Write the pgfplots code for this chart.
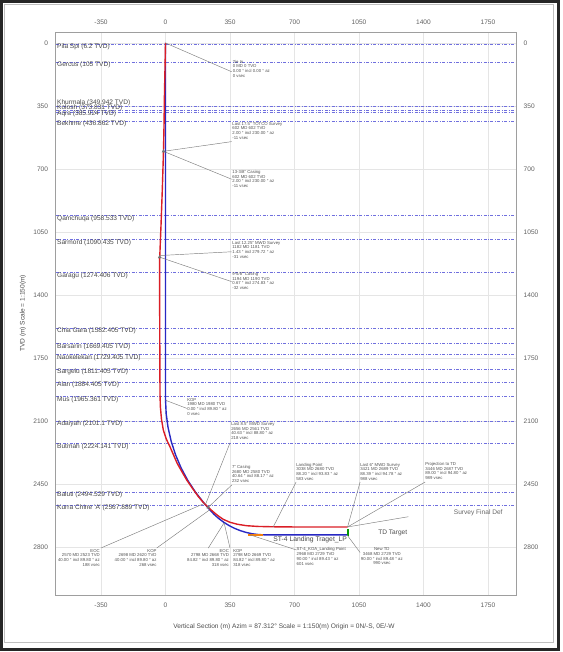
\documentclass[border=0pt]{standalone}
\usepackage{fontspec}
\setmainfont{Liberation Sans}
\usepackage{pgfplots}
\pgfplotsset{compat=1.18}
\definecolor{fmc}{RGB}{112,112,222}
\definecolor{wred}{RGB}{218,30,38}
\definecolor{wblue}{RGB}{40,40,195}
\definecolor{anc}{RGB}{80,80,80}
\definecolor{ldc}{RGB}{125,125,125}
\definecolor{tkc}{RGB}{95,95,95}
\newcommand{\fs}{\fontsize{6.6}{7.6}\selectfont}
\newcommand{\as}{\fontsize{4.3}{4.8}\selectfont}
\pgfplotsset{
  base/.style={scale only axis,
   width=460.3bp, height=563bp, xmin=-596, xmax=1902, ymin=-61, ymax=3067, y dir=reverse,
   xtick={-350,0,350,700,1050,1400,1750}, ytick={0,350,...,2800},
   major tick length=0pt, axis line style={black!38, line width=0.7bp},
   tick label style={font=\fs, text=tkc, inner sep=0pt},
   xticklabel shift=7.5bp, yticklabel shift=7.5bp,
   /pgf/number format/assume math mode=true, /pgf/number format/1000 sep={}, clip=false}
}
\tikzset{
  fline/.style={fmc, line width=0.5bp, dash pattern=on 3bp off 1.5bp on 0.9bp off 1.5bp},
  flab/.style={anchor=base west, font=\fs, text=black!72, inner sep=0pt, xshift=1.3bp},
  lead/.style={ldc, line width=0.45bp},
  ann/.style={font=\as, text=anc, inner sep=0pt, align=left, anchor=north west}
}
\newcommand{\fm}[3]{\addplot[fline] coordinates {(-596,#1) (1902,#1)};
  \node[flab, yshift=#3] at (axis cs:-596,#1) {#2};}
\begin{document}
\begin{tikzpicture}
\begin{axis}[base, grid=major, grid style={black!10, line width=0.4bp},
  xticklabel pos=left, yticklabel pos=left]
\coordinate (BL) at (axis cs:-596,3067);
% formation tops
\fm{6.2}{Pila Spi (6.2 TVD)}{-4.6bp}
\fm{105}{Gercus (105 TVD)}{-4.6bp}
\fm{349.942}{Khurmala (349.942 TVD)}{1bp}
\fm{373.831}{Kolosh (373.831 TVD)}{0.5bp}
\fm{385.924}{Aqra (385.924 TVD)}{-2.8bp}
\fm{436.862}{Bekhme (436.862 TVD)}{-3.9bp}
\fm{958.533}{Qamchuqa (958.533 TVD)}{-4.8bp}
\fm{1090.435}{Sarmord (1090.435 TVD)}{-4.8bp}
\fm{1274.406}{Garagu (1274.406 TVD)}{-4.8bp}
\fm{1582.405}{Chia Gara (1582.405 TVD)}{-4.8bp}
\fm{1669.405}{Barsarin (1669.405 TVD)}{-4.8bp}
\fm{1729.405}{Naokelekan (1729.405 TVD)}{-4.8bp}
\fm{1811.405}{Sargelu (1811.405 TVD)}{-4.8bp}
\fm{1884.405}{Alan (1884.405 TVD)}{-4.8bp}
\fm{1965.361}{Mus (1965.361 TVD)}{-4.8bp}
\fm{2101.1}{Adaiyah (2101.1 TVD)}{-4.8bp}
\fm{2224.141}{Butmah (2224.141 TVD)}{-4.8bp}
\fm{2494.529}{Baluti (2494.529 TVD)}{-4.8bp}
\fm{2567.889}{Kurra Chine 'A' (2567.889 TVD)}{-4.8bp}
% plan (blue)
\addplot[wblue, line width=1.4bp] coordinates {(0,0) (0,1980) (3.4,2058.4) (13.7,2136.3) (30.7,2212.9) (54.3,2287.8) (84.3,2360.4) (120.6,2430) (162.8,2496.2) (210.6,2558.5) (240,2593.5) (263.0,2618.6) (288.1,2641.6) (315.1,2662.3) (343.8,2680.6) (373.9,2696.3) (405.4,2709.3) (437.8,2719.5) (471.0,2726.9) (504.8,2731.3) (538.8,2732.8) (985,2732.8)};
% landing target segment
\addplot[orange!80!brown, line width=1.3bp] coordinates {(447,2732.8) (529,2732.8)};
% actual survey (red)
\addplot[wred, line width=1.4bp] coordinates {(0,0) (-3,150) (-6,300) (-8,450) (-11,602) (-17,800) (-24,1000) (-31,1181) (-32,1190) (-32,1400) (-31,1700) (-30,1950) (-28,2020) (-22,2090) (-12,2150) (4,2200) (24,2243) (44,2290) (63,2335) (88,2380) (115,2428) (146,2474) (178,2520) (205,2553) (232,2580) (258,2604) (284,2626) (314,2647) (350,2663) (390,2674) (440,2682) (500,2686) (585,2688) (700,2689) (850,2689) (988,2689)};
% casing shoes
\addplot[only marks, mark=triangle*, mark size=1.7bp, black!55] coordinates {(-11,602) (-32,1190) (232,2580)};
% TD target marker
\addplot[green!60!black, line width=2bp] coordinates {(992,2702) (992,2740)};
% annotations
\draw[lead] (axis cs:0,0) -- (axis cs:359,160);
\node[ann] at (axis cs:364,94) {Tie In\\0 MD 0 TVD\\0.00 ° incl 0.00 ° az\\0 vsec};
\draw[lead] (axis cs:-11,602) -- (axis cs:359,548);
\node[ann] at (axis cs:362,439) {Last 17.5\textquotedbl{} TOTCO Survey\\602 MD 602 TVD\\2.00 ° incl 230.00 ° az\\-11 vsec};
\draw[lead] (axis cs:-11,602) -- (axis cs:359,757);
\node[ann] at (axis cs:362,706) {13-3/8\textquotedbl{} Casing\\602 MD 602 TVD\\2.00 ° incl 230.00 ° az\\-11 vsec};
\draw[lead] (axis cs:-31,1181) -- (axis cs:359,1160);
\node[ann] at (axis cs:362,1100) {Last 12.25\textquotedbl{} MWD Survey\\1182 MD 1181 TVD\\1.43 ° incl 279.72 ° az\\-31 vsec};
\draw[lead] (axis cs:-32,1190) -- (axis cs:359,1326);
\node[ann] at (axis cs:362,1272) {9-5/8\textquotedbl{} Casing\\1194 MD 1190 TVD\\0.67 ° incl 274.83 ° az\\-32 vsec};
\draw[lead] (axis cs:0,1985) -- (axis cs:115,2030);
\node[ann] at (axis cs:117,1972) {KOP\\1980 MD 1980 TVD\\0.00 ° incl 89.80 ° az\\0 vsec};
\draw[lead] (axis cs:350,2222) -- (axis cs:218,2561);
\node[ann] at (axis cs:356,2106) {Last 8.5\textquotedbl{} MWD Survey\\2656 MD 2561 TVD\\40.63 ° incl 88.80 ° az\\218 vsec};
\draw[lead] (axis cs:359,2456) -- (axis cs:232,2580);
\node[ann] at (axis cs:360,2345) {7\textquotedbl{} Casing\\2680 MD 2580 TVD\\40.64 ° incl 88.17 ° az\\232 vsec};
\draw[lead] (axis cs:708.6,2439) -- (axis cs:585,2688);
\node[ann] at (axis cs:708.6,2333) {Landing Point\\3038 MD 2680 TVD\\88.20 ° incl 93.83 ° az\\583 vsec};
\draw[lead] (axis cs:1056,2439) -- (axis cs:988,2689);
\node[ann] at (axis cs:1056,2333) {Last 6\textquotedbl{} MWD Survey\\3421 MD 2689 TVD\\88.39 ° incl 94.78 ° az\\988 vsec};
\draw[lead] (axis cs:1409,2439) -- (axis cs:988,2689);
\node[ann] at (axis cs:1409,2328) {Projection to TD\\3446 MD 2687 TVD\\89.00 ° incl 94.80 ° az\\989 vsec};
\draw[lead] (axis cs:988,2689) -- (axis cs:1318,2632);
\node[font=\fs, text=black!60, inner sep=0pt] at (axis cs:1697,2610) {Survey Final Def};
\node[font=\fs, text=black!70, inner sep=0pt] at (axis cs:1233,2721) {TD Target};
\node[font=\fontsize{6.8}{8}\selectfont, text=black!72, inner sep=0pt] at (axis cs:785,2761) {ST-4 Landing Traget\_LP};
\draw[lead] (axis cs:459,2733) -- (axis cs:711,2817);
\node[ann] at (axis cs:711,2803) {ST-4\_KOA\_Landing Point\\2968 MD 2729 TVD\\90.00 ° incl 89.43 ° az\\601 vsec};
\draw[lead] (axis cs:985,2733) -- (axis cs:1056,2831);
\node[ann, align=center, anchor=north] at (axis cs:1174,2803) {New TD\\3468 MD 2729 TVD\\90.00 ° incl 89.48 ° az\\990 vsec};
\draw[lead] (axis cs:-351,2806) -- (axis cs:210.6,2558.5);
\node[ann, align=right, anchor=north east] at (axis cs:-355.7,2811) {EOC\\2570 MD 2523 TVD\\40.00 ° incl 89.80 ° az\\188 vsec};
\draw[lead] (axis cs:-47.8,2806) -- (axis cs:240,2593.5);
\node[ann, align=right, anchor=north east] at (axis cs:-47.8,2811) {KOP\\2698 MD 2620 TVD\\40.00 ° incl 89.80 ° az\\268 vsec};
\draw[lead] (axis cs:232,2806) -- (axis cs:318,2666);
\node[ann, align=right, anchor=north east] at (axis cs:345,2811) {EOC\\2798 MD 2668 TVD\\84.82 ° incl 89.80 ° az\\318 vsec};
\draw[lead] (axis cs:350,2806) -- (axis cs:318,2666);
\node[ann] at (axis cs:366.5,2811) {KOP\\2798 MD 2669 TVD\\84.82 ° incl 89.80 ° az\\318 vsec};
\end{axis}
\begin{axis}[base, xticklabel pos=right, yticklabel pos=right]
\end{axis}
\coordinate (O) at ([shift={(-55.7bp,-57bp)}]BL);
\draw[black!85, line width=3bp] ([shift={(1.5bp,3bp)}]O) rectangle ([shift={(558.3bp,650.7bp)}]O);
\draw[black!25, line width=0.6bp] ([shift={(4.5bp,10bp)}]O) rectangle ([shift={(553bp,647.5bp)}]O);
\node[font=\fs, text=black!70] at ([shift={(284bp,25bp)}]O) {Vertical Section (m) Azim = 87.312° Scale = 1:150(m) Origin = 0N/-S, 0E/-W};
\node[font=\fs, text=black!70, rotate=90] at ([shift={(23bp,338.5bp)}]O) {TVD (m) Scale = 1:150(m)};
\pgfresetboundingbox
\path[use as bounding box] (O) rectangle ([shift={(563bp,652bp)}]O);
\end{tikzpicture}
\end{document}
